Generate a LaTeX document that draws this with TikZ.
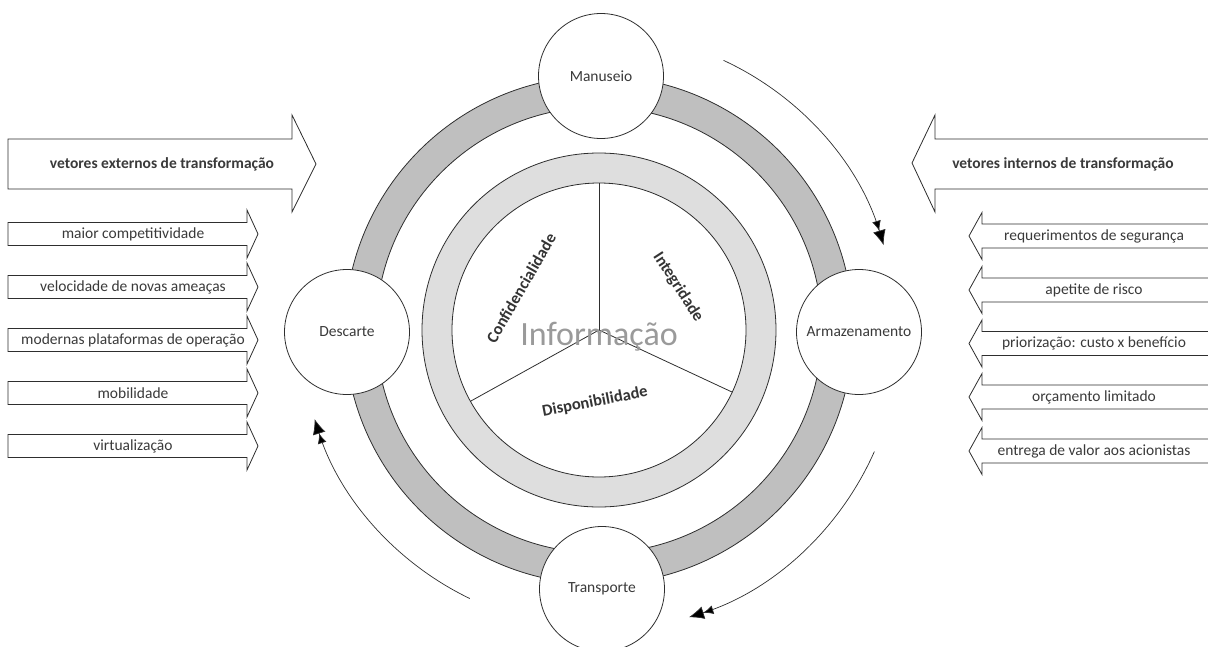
\documentclass[tikz,border=0pt]{standalone}
\usepackage{fontspec}
\setmainfont{Carlito}
\usetikzlibrary{arrows.meta,calc}
\definecolor{ringdark}{HTML}{BFBFBF}
\definecolor{ringlight}{HTML}{DEDEDE}
\definecolor{txt}{HTML}{3A3A3A}
\definecolor{ln}{HTML}{2E2E2E}
\definecolor{info}{HTML}{9A9A9A}
\begin{document}
\begin{tikzpicture}[x=1pt,y=-1pt,
  stage/.style={circle, draw=ln, line width=0.8pt, fill=white, minimum size=125pt, inner sep=0pt, text=txt, font=\fontsize{15.5}{18}\selectfont},
  lbl/.style={text=txt, font=\fontsize{15.5}{18}\selectfont, inner sep=0pt},
  blbl/.style={text=txt, font=\fontsize{15.5}{18}\selectfont\bfseries, inner sep=0pt},
  pillar/.style={text=txt!90!black, font=\fontsize{16.5}{19}\selectfont\bfseries, inner sep=0pt},
  shapearrow/.style={draw=ln, line width=0.8pt, fill=white},
  ring/.style={draw=ln, line width=0.8pt, even odd rule},
  cyc/.style={draw=ln, line width=0.7pt, -{Latex[length=10pt,width=9pt,fill=black] Latex[length=15pt,width=13pt,fill=black]}}
]
\useasboundingbox (0,0) rectangle (1208,646);

% big arrows
\draw[shapearrow] (8,139) -- (292,139) -- (292,115) -- (316,164) -- (292,212) -- (292,189) -- (8,189) -- cycle;
\node[blbl] (extbig) at (162,164) {vetores externos de transformação};
\draw[shapearrow] (1212,139) -- (935,139) -- (935,115) -- (912,163) -- (935,212) -- (935,189) -- (1212,189);
\node[blbl] (intbig) at (1063,164) {vetores internos de transformação};

% small left arrows
\foreach \yy/\t [count=\k] in {234/maior competitividade, 287/velocidade de novas ameaças, 340/modernas plataformas de operação, 393/mobilidade, 446/virtualização}{
  \draw[shapearrow] (8,\yy-11.5) -- (247,\yy-11.5) -- (247,\yy-24) -- (258,\yy) -- (247,\yy+24) -- (247,\yy+11.5) -- (8,\yy+11.5) -- cycle;
  \node[lbl] (ext\k) at (133,\yy) {\t};
}
% small right arrows
\foreach \yy/\t [count=\k] in {236/requerimentos de segurança, 290/apetite de risco, 343.5/priorização: custo x benefício, 397/orçamento limitado, 451/entrega de valor aos acionistas}{
  \draw[shapearrow] (1212,\yy-12) -- (982,\yy-12) -- (982,\yy-23.5) -- (969,\yy) -- (982,\yy+23.5) -- (982,\yy+12) -- (1212,\yy+12);
  \node[lbl] (int\k) at (1094,\yy) {\t};
}

% rings
\coordinate (c) at (599,330);
\filldraw[ring, fill=ringdark] (c) circle[radius=254] (c) circle[radius=223];
\filldraw[ring, fill=ringlight] (c) circle[radius=177] (c) circle[radius=147];
\draw[draw=ln, line width=0.8pt] (c) -- ++(-90:147);
\draw[draw=ln, line width=0.8pt] (c) -- ++(151:147);
\draw[draw=ln, line width=0.8pt] (c) -- ++(25:147);

\node[text=info, font=\fontsize{34}{40}\selectfont, anchor=base, inner sep=0pt] (info) at (599,345) {Informação};
\node[pillar, rotate=60] (conf) at (521,288) {Confidencialidade};
\node[pillar, rotate=-57] (integ) at (678,287) {Integridade};
\node[pillar, rotate=11] (disp) at (595,402) {Disponibilidade};

% stage nodes
\node[stage] (man) at (601,76) {Manuseio};
\node[stage] (arm) at (859,332) {Armazenamento};
\node[stage] (tra) at (602,589) {Transporte};
\node[stage] (des) at (347,332) {Descarte};

% cycle arrows
\draw[cyc] ($(c)+(-65.2:297)$) arc[start angle=-65.2, end angle=-16.6, radius=297];
\draw[cyc] ($(c)+(23.8:301)$) arc[start angle=23.8, end angle=72.6, radius=301];
\draw[cyc] ($(c)+(115.7:298)$) arc[start angle=115.7, end angle=162.6, radius=298];
\end{tikzpicture}
\end{document}
